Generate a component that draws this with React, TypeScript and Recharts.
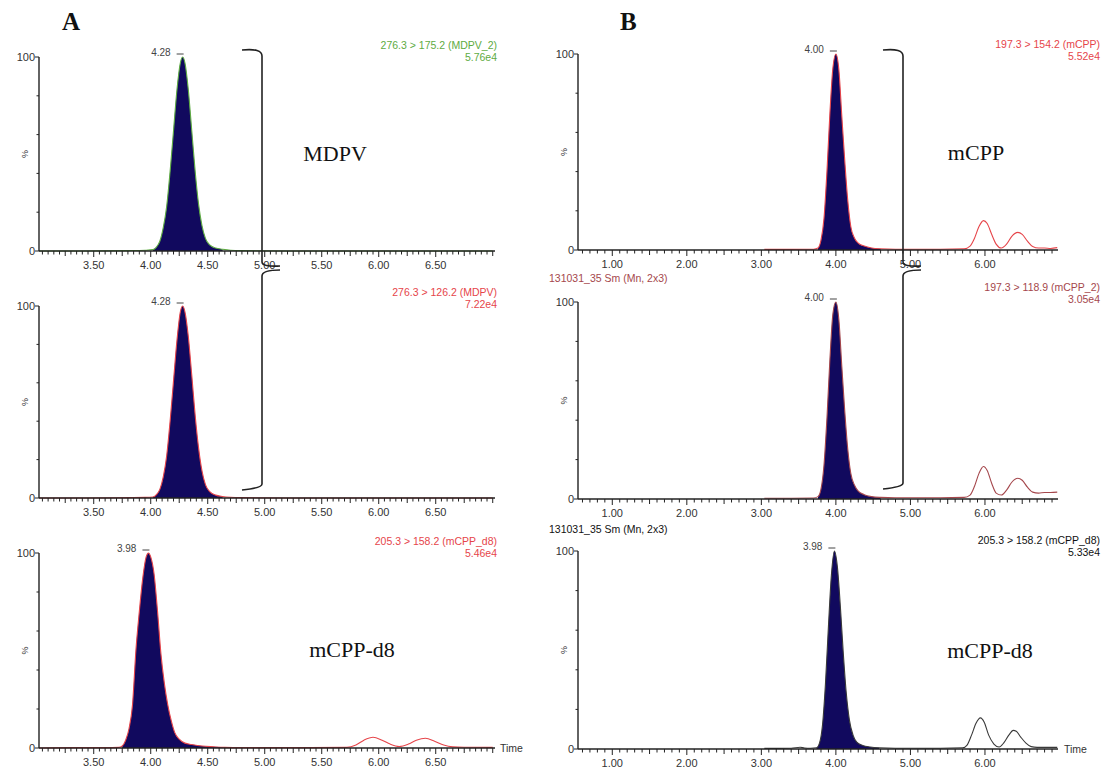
import { ComposedChart, Area, Line, XAxis, YAxis, ReferenceDot } from 'recharts'

// retention times (min) and relative intensity (%)
const a1Time = [3.02, 3.40, 3.80, 3.95, 4.02, 4.05, 4.08, 4.11, 4.14, 4.17, 4.20, 4.23, 4.26, 4.28, 4.30, 4.33, 4.36, 4.39, 4.42, 4.45, 4.48, 4.52, 4.57, 4.63, 4.70, 4.80, 5.20, 6.00, 7.00]
const a1Signal = [0, 0, 0.2, 0.4, 0.7, 2, 5, 12, 23, 41, 62, 83, 97, 100, 97, 83, 62, 41, 24, 13, 6.5, 3, 1.5, 0.9, 0.4, 0.2, 0, 0, 0]

const a2Time = [3.02, 3.40, 3.80, 3.95, 4.02, 4.05, 4.08, 4.11, 4.14, 4.17, 4.20, 4.23, 4.26, 4.28, 4.30, 4.33, 4.36, 4.39, 4.42, 4.45, 4.48, 4.52, 4.57, 4.63, 4.70, 4.80, 5.20, 6.00, 7.00]
const a2Signal = [0, 0, 0.2, 0.3, 0.5, 1.8, 4.5, 11, 22, 40, 61, 82, 97, 100, 97, 84, 64, 43, 26, 14, 7, 3.2, 1.5, 0.8, 0.4, 0.2, 0, 0, 0]

const a3Time = [3.02, 3.30, 3.60, 3.72, 3.75, 3.78, 3.81, 3.84, 3.87, 3.90, 3.93, 3.96, 3.98, 4.00, 4.03, 4.06, 4.09, 4.12, 4.15, 4.18, 4.21, 4.25, 4.30, 4.36, 4.45, 4.55, 4.65, 4.80, 5.40, 5.72, 5.80, 5.87, 5.95, 6.03, 6.10, 6.18, 6.26, 6.33, 6.41, 6.49, 6.57, 6.65, 6.75, 7.00]
const a3Signal = [0, 0.2, 0.2, 0.3, 1, 4, 10, 22, 50, 70, 87, 98, 100, 98, 89, 70, 48, 33, 22, 14, 8, 4.5, 2.5, 1.8, 1, 0.6, 0.3, 0.2, 0.2, 0.3, 1.5, 4, 5.5, 4, 2, 0.8, 2, 4, 5, 3.5, 1.5, 0.6, 0.4, 0.3]

const b1Time = [3.04, 3.40, 3.70, 3.76, 3.80, 3.84, 3.88, 3.92, 3.96, 4.00, 4.04, 4.08, 4.12, 4.16, 4.20, 4.25, 4.30, 4.38, 4.48, 4.60, 4.80, 5.40, 5.72, 5.80, 5.86, 5.92, 5.98, 6.03, 6.09, 6.15, 6.22, 6.29, 6.36, 6.44, 6.50, 6.57, 6.64, 6.72, 6.80, 6.88, 6.97]
const b1Signal = [0.3, 0.3, 0.4, 1, 5, 16, 40, 70, 93, 100, 92, 68, 45, 25, 12, 6, 3.5, 2, 1, 0.6, 0.4, 0.4, 0.6, 2, 6, 12, 15, 13.5, 8, 3, 1, 3, 7, 9, 8, 4.5, 1.8, 1, 1, 0.8, 1.2]

const b2Time = [3.04, 3.40, 3.70, 3.76, 3.80, 3.84, 3.88, 3.92, 3.96, 4.00, 4.04, 4.08, 4.12, 4.16, 4.20, 4.25, 4.30, 4.38, 4.48, 4.60, 4.80, 5.40, 5.72, 5.80, 5.86, 5.92, 5.98, 6.03, 6.09, 6.15, 6.22, 6.29, 6.36, 6.44, 6.50, 6.57, 6.64, 6.72, 6.80, 6.88, 6.97]
const b2Signal = [0.4, 0.4, 0.5, 1.2, 5, 17, 41, 71, 94, 100, 91, 67, 44, 25, 13, 7, 4, 2.2, 1.2, 0.8, 0.6, 0.6, 0.8, 2, 6.5, 13, 16.5, 14.5, 8, 3, 2, 4.5, 8.5, 10.5, 9.5, 6, 3.5, 3, 3.3, 3.3, 3.5]

const b3Time = [3.04, 3.40, 3.52, 3.58, 3.66, 3.74, 3.78, 3.82, 3.86, 3.90, 3.94, 3.98, 4.02, 4.06, 4.10, 4.14, 4.18, 4.23, 4.28, 4.36, 4.46, 4.58, 4.80, 5.40, 5.70, 5.76, 5.82, 5.88, 5.94, 5.99, 6.05, 6.12, 6.19, 6.25, 6.32, 6.38, 6.42, 6.48, 6.55, 6.62, 6.70, 6.80, 6.97]
const b3Signal = [0.3, 0.4, 0.9, 0.5, 0.4, 0.6, 3, 12, 33, 62, 88, 100, 92, 72, 48, 28, 15, 7, 3.5, 1.8, 1, 0.6, 0.4, 0.4, 0.6, 2, 7, 13, 15.7, 13.5, 7, 2.5, 1, 3, 7, 9.4, 9, 6, 3, 1.2, 0.8, 0.8, 0.8]

const peakTimes = [4.28, 4.28, 3.98, 4.00, 4.00, 3.98]
const fillWindows: [number, number][] = [[4.02, 4.63], [4.02, 4.63], [3.75, 4.65], [3.76, 4.60], [3.76, 4.60], [3.74, 4.58]]

const aMajorTicks = [3.5, 4.0, 4.5, 5.0, 5.5, 6.0, 6.5]
const bMajorTicks = [1, 2, 3, 4, 5, 6]
const yTicks = [0, 20, 40, 50, 60, 80, 100]

const channelLabels = [
  ['276.3 > 175.2 (MDPV_2)', '5.76e4'],
  ['276.3 > 126.2 (MDPV)', '7.22e4'],
  ['205.3 > 158.2 (mCPP_d8)', '5.46e4'],
  ['197.3 > 154.2 (mCPP)', '5.52e4'],
  ['197.3 > 118.9 (mCPP_2)', '3.05e4'],
  ['205.3 > 158.2 (mCPP_d8)', '5.33e4'],
]

const NAVY = '#11095e'
const FONT = '"Liberation Sans", Arial, sans-serif'
const SERIF = '"Liberation Serif", "Times New Roman", serif'

const aMinor: number[] = []
for (let k = 61; k <= 140; k++) aMinor.push(Math.round(k * 5) / 100)
const bMinor: number[] = []
for (let k = 6; k <= 69; k++) bMinor.push(k / 10)

const near = (list: number[], v: number) => list.some((m) => Math.abs(m - v) < 1e-6)

function makeXTick(majors: number[], midStep: number) {
  return (p: any) => {
    const v = p.payload.value
    const major = near(majors, v)
    const mid = Math.abs(v / midStep - Math.round(v / midStep)) < 1e-6
    const len = major ? 6 : mid ? 5 : 3.5
    return (
      <g>
        <line x1={p.x} x2={p.x} y1={p.y} y2={p.y + len} stroke="#222" strokeWidth={1} />
        {major && (
          <text x={p.x} y={p.y + 18} textAnchor="middle" fontSize={11} fontFamily={FONT} fill="#333">
            {v.toFixed(2)}
          </text>
        )}
      </g>
    )
  }
}

function YTick(p: any) {
  const v = p.payload.value
  if (v === 50) {
    return (
      <text x={p.x - 14} y={p.y} fontSize={9} fontFamily={FONT} fill="#333" textAnchor="middle"
        transform={`rotate(-90 ${p.x - 14} ${p.y})`} dy={3}>%</text>
    )
  }
  const edge = v === 0 || v === 100
  return (
    <g>
      <line x1={p.x - (edge ? 4 : 2.5)} x2={p.x} y1={p.y} y2={p.y} stroke="#222" strokeWidth={1} />
      {edge && (
        <text x={p.x - 4} y={p.y + 4} textAnchor="end" fontSize={11} fontFamily={FONT} fill="#333">{v}</text>
      )}
    </g>
  )
}

type PanelProps = {
  x0: number; x1: number; y100: number; y0: number
  domain: [number, number]; minor: number[]; majors: number[]; midStep: number
  time: number[]; signal: number[]; idx: number; color: string
}

function Panel({ x0, x1, y100, y0, domain, minor, majors, midStep, time, signal, idx, color }: PanelProps) {
  const [lo, hi] = fillWindows[idx]
  const data = time.map((t, i) => ({ t, v: signal[i], f: t >= lo && t <= hi ? signal[i] : null }))
  const w = x1 - x0 + 60
  const h = y0 - y100 + 50
  const peak = peakTimes[idx]
  return (
    <div style={{ position: 'absolute', left: x0 - 40, top: y100 - 20 }}>
      <ComposedChart width={w} height={h} data={data} margin={{ top: 20, right: 20, bottom: 0, left: 0 }}>
        <XAxis dataKey="t" type="number" domain={domain} allowDataOverflow ticks={minor} interval={0}
          height={30} tickSize={0} tickMargin={0} tickLine={false}
          axisLine={{ stroke: '#222', strokeWidth: 1.4 }} tick={makeXTick(majors, midStep)} />
        <YAxis type="number" domain={[0, 100]} ticks={yTicks} interval={0} width={40}
          tickSize={0} tickMargin={0} tickLine={false}
          axisLine={{ stroke: '#222', strokeWidth: 1.4 }} tick={(p: any) => <YTick {...p} />} />
        <Area dataKey="f" type="monotone" stroke="none" fill={NAVY} fillOpacity={1}
          isAnimationActive={false} dot={false} activeDot={false} connectNulls={false} />
        <Line dataKey="v" type="monotone" stroke={color} strokeWidth={1.1} dot={false}
          activeDot={false} isAnimationActive={false} />
        <ReferenceDot x={peak} y={100} r={0} isFront
          shape={(p: any) => (
            <g>
              <line x1={p.cx - 6} x2={p.cx + 1} y1={p.cy - 3} y2={p.cy - 3} stroke="#444" strokeWidth={1} />
              <text x={p.cx - 12} y={p.cy - 1} textAnchor="end" fontSize={10} fontFamily={FONT} fill="#444">
                {peak.toFixed(2)}
              </text>
            </g>
          )} />
      </ComposedChart>
    </div>
  )
}

function ChannelText({ x, y, lines, color }: { x: number; y: number; lines: string[]; color: string }) {
  return (
    <>
      <text x={x} y={y} textAnchor="end" fontSize={10.5} fontFamily={FONT} fill={color}>{lines[0]}</text>
      <text x={x} y={y + 12} textAnchor="end" fontSize={10.5} fontFamily={FONT} fill={color}>{lines[1]}</text>
    </>
  )
}

export default function App() {
  const aDom: [number, number] = [3.02, 7.02]
  const bDom: [number, number] = [0.54, 6.98]
  const green = '#5eab42'
  const red = '#e6454a'
  const brown = '#a5474c'
  const dark = '#3a3a3a'
  return (
    <div style={{ position: 'absolute', left: 0, top: 0, width: 1104, height: 774, background: '#fff' }}>
      <Panel x0={39} x1={495} y100={57} y0={251} domain={aDom} minor={aMinor} majors={aMajorTicks} midStep={0.25}
        time={a1Time} signal={a1Signal} idx={0} color={green} />
      <Panel x0={39} x1={495} y100={306} y0={498} domain={aDom} minor={aMinor} majors={aMajorTicks} midStep={0.25}
        time={a2Time} signal={a2Signal} idx={1} color={red} />
      <Panel x0={39} x1={495} y100={553} y0={748} domain={aDom} minor={aMinor} majors={aMajorTicks} midStep={0.25}
        time={a3Time} signal={a3Signal} idx={2} color={red} />
      <Panel x0={578} x1={1058} y100={54} y0={250} domain={bDom} minor={bMinor} majors={bMajorTicks} midStep={0.5}
        time={b1Time} signal={b1Signal} idx={3} color={red} />
      <Panel x0={578} x1={1058} y100={302} y0={499} domain={bDom} minor={bMinor} majors={bMajorTicks} midStep={0.5}
        time={b2Time} signal={b2Signal} idx={4} color={brown} />
      <Panel x0={578} x1={1058} y100={551} y0={749} domain={bDom} minor={bMinor} majors={bMajorTicks} midStep={0.5}
        time={b3Time} signal={b3Signal} idx={5} color={dark} />

      <svg width={1104} height={774} style={{ position: 'absolute', left: 0, top: 0, pointerEvents: 'none' }}>
        <text x={62} y={30} fontSize={25} fontWeight="bold" fontFamily={SERIF} fill="#111">A</text>
        <text x={620} y={30} fontSize={25} fontWeight="bold" fontFamily={SERIF} fill="#111">B</text>

        <text x={335} y={161} textAnchor="middle" fontSize={22} fontFamily={SERIF} fill="#111">MDPV</text>
        <text x={976} y={160} textAnchor="middle" fontSize={22} fontFamily={SERIF} fill="#111">mCPP</text>
        <text x={352} y={657} textAnchor="middle" fontSize={22} fontFamily={SERIF} fill="#111">mCPP-d8</text>
        <text x={990} y={658} textAnchor="middle" fontSize={22} fontFamily={SERIF} fill="#111">mCPP-d8</text>

        <ChannelText x={497} y={49} lines={channelLabels[0]} color={green} />
        <ChannelText x={497} y={296} lines={channelLabels[1]} color={red} />
        <ChannelText x={497} y={545} lines={channelLabels[2]} color={red} />
        <ChannelText x={1100} y={48} lines={channelLabels[3]} color={red} />
        <ChannelText x={1100} y={291} lines={channelLabels[4]} color={brown} />
        <ChannelText x={1100} y={544} lines={channelLabels[5]} color="#111" />

        <text x={549} y={282} fontSize={10.5} fontFamily={FONT} fill={brown}>131031_35 Sm (Mn, 2x3)</text>
        <text x={549} y={533} fontSize={10.5} fontFamily={FONT} fill="#111">131031_35 Sm (Mn, 2x3)</text>

        <text x={500} y={752} fontSize={10.5} fontFamily={FONT} fill="#333">Time</text>
        <text x={1064} y={753} fontSize={10.5} fontFamily={FONT} fill="#333">Time</text>

        <path d="M242,50 Q262,48 262,56 L262,262 Q262,267 280,266 M280,270 Q262,270 262,276 L262,484 Q262,488 242,490"
          fill="none" stroke="#222" strokeWidth={1.6} />
        <path d="M883,50 Q903,48 903,56 L903,262 Q903,267 921,266 M921,270 Q903,270 903,276 L903,483 Q903,487 883,489"
          fill="none" stroke="#222" strokeWidth={1.6} />
      </svg>
    </div>
  )
}
